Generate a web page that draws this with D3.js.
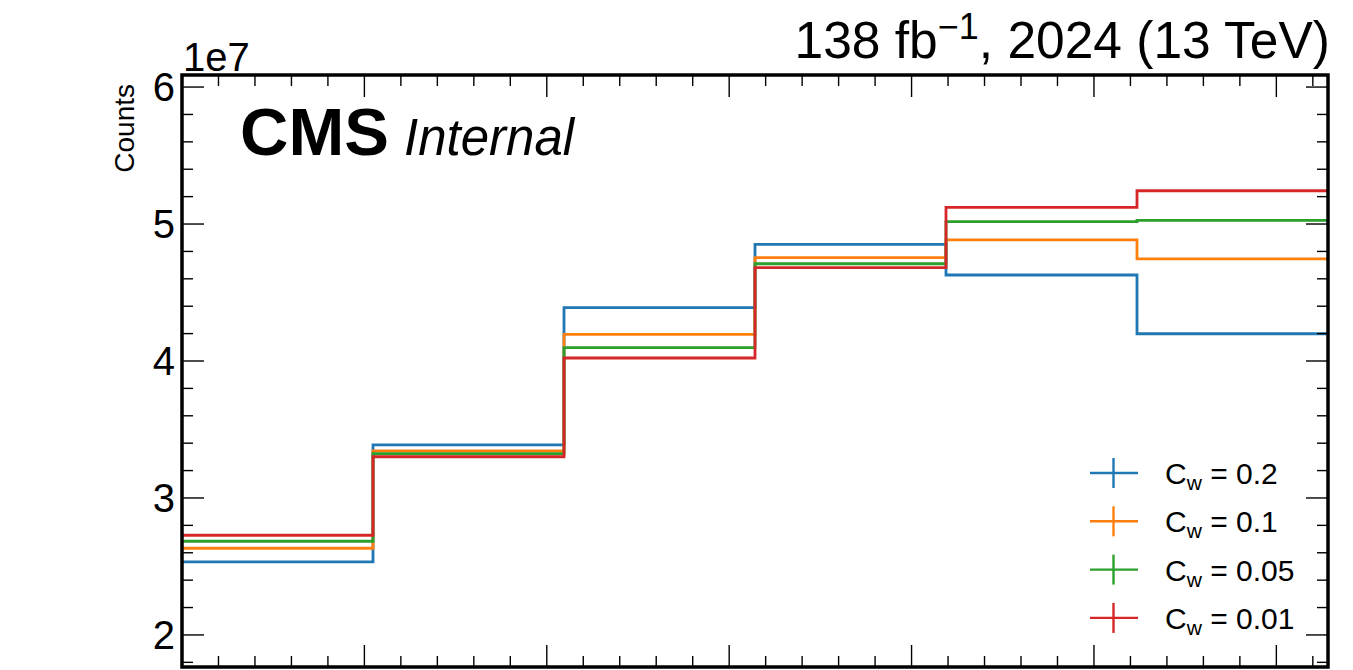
<!DOCTYPE html>
<html>
<head>
<meta charset="utf-8">
<script src="https://cdn.jsdelivr.net/npm/d3@7"></script>
<style>
  body { margin: 0; background: #fff; }
  svg text { font-family: "Liberation Sans", Arial, sans-serif; fill: #000; }
</style>
</head>
<body>
<svg id="chart" width="1353" height="670"></svg>
<script>
// bin edges (0 .. pi, 6 bins) and counts per bin for each Cw value
var binEdges = [0, Math.PI / 6, 2 * Math.PI / 6, 3 * Math.PI / 6, 4 * Math.PI / 6, 5 * Math.PI / 6, Math.PI];
var cw02  = [2.533e7, 3.387e7, 4.389e7, 4.852e7, 4.628e7, 4.199e7];
var cw01  = [2.633e7, 3.343e7, 4.195e7, 4.754e7, 4.885e7, 4.745e7];
var cw005 = [2.684e7, 3.323e7, 4.097e7, 4.710e7, 5.017e7, 5.027e7];
var cw001 = [2.728e7, 3.301e7, 4.022e7, 4.681e7, 5.122e7, 5.243e7];
var seriesLabels = ["0.2", "0.1", "0.05", "0.01"];
var seriesColors = ["#1f77b4", "#ff7f0e", "#2ca02c", "#d62728"];
var yMajorTicks = [2e7, 3e7, 4e7, 5e7, 6e7];

var allSeries = [cw02, cw01, cw005, cw001];

var plotLeft = 182, plotRight = 1328, plotTop = 75, plotBottom = 667;

var svg = d3.select("#chart");

var x = d3.scaleLinear().domain([0, Math.PI]).range([plotLeft, plotRight]);
var y = d3.scaleLinear().domain([1.766e7, 6.088e7]).range([plotBottom, plotTop]);

svg.append("clipPath").attr("id", "plotclip")
  .append("rect")
    .attr("x", plotLeft).attr("y", plotTop)
    .attr("width", plotRight - plotLeft).attr("height", plotBottom - plotTop);

// histograms as steps
var stepLine = d3.line()
    .x(function(d) { return x(d[0]); })
    .y(function(d) { return y(d[1]); })
    .curve(d3.curveStepAfter);

var hists = svg.append("g").attr("clip-path", "url(#plotclip)");
allSeries.forEach(function(vals, i) {
  var pts = vals.map(function(v, j) { return [binEdges[j], v]; });
  pts.push([binEdges[binEdges.length - 1], vals[vals.length - 1]]);
  hists.append("path")
      .attr("d", stepLine(pts))
      .attr("fill", "none")
      .attr("stroke", seriesColors[i])
      .attr("stroke-width", 2.8);
});

// ticks, all pointing inwards
var majLen = 22, minLen = 11;
var ticks = svg.append("g").attr("stroke", "#000").attr("stroke-width", 1.4);

var xMajor = d3.range(0, 3.01, 0.5);
var xMinor = d3.range(0, 3.15, 0.1).filter(function(v) {
  return Math.abs(v * 2 - Math.round(v * 2)) > 1e-6;
});
xMajor.forEach(function(v) {
  ticks.append("line").attr("x1", x(v)).attr("x2", x(v)).attr("y1", plotBottom).attr("y2", plotBottom - majLen);
  ticks.append("line").attr("x1", x(v)).attr("x2", x(v)).attr("y1", plotTop).attr("y2", plotTop + majLen);
});
xMinor.forEach(function(v) {
  ticks.append("line").attr("x1", x(v)).attr("x2", x(v)).attr("y1", plotBottom).attr("y2", plotBottom - minLen);
  ticks.append("line").attr("x1", x(v)).attr("x2", x(v)).attr("y1", plotTop).attr("y2", plotTop + minLen);
});

var yMinor = d3.range(1.8e7, 6.01e7, 0.2e7).filter(function(v) {
  return Math.abs(v / 1e7 - Math.round(v / 1e7)) > 1e-6;
});
yMajorTicks.forEach(function(v) {
  ticks.append("line").attr("x1", plotLeft).attr("x2", plotLeft + majLen).attr("y1", y(v)).attr("y2", y(v));
  ticks.append("line").attr("x1", plotRight).attr("x2", plotRight - majLen).attr("y1", y(v)).attr("y2", y(v));
});
yMinor.forEach(function(v) {
  ticks.append("line").attr("x1", plotLeft).attr("x2", plotLeft + minLen).attr("y1", y(v)).attr("y2", y(v));
  ticks.append("line").attr("x1", plotRight).attr("x2", plotRight - minLen).attr("y1", y(v)).attr("y2", y(v));
});

// y tick labels
svg.append("g").selectAll("text")
  .data(yMajorTicks)
  .enter().append("text")
    .attr("x", plotLeft - 7)
    .attr("y", function(d) { return y(d); })
    .attr("dy", "0.35em")
    .attr("text-anchor", "end")
    .style("font-size", "40px")
    .text(function(d) { return d3.format("d")(d / 1e7); });

// frame
svg.append("rect")
    .attr("x", plotLeft).attr("y", plotTop)
    .attr("width", plotRight - plotLeft).attr("height", plotBottom - plotTop)
    .attr("fill", "none")
    .attr("stroke", "#000")
    .attr("stroke-width", 3.5);

// offset text and axis label
svg.append("text")
    .attr("x", plotLeft + 1).attr("y", 71)
    .style("font-size", "40px")
    .text("1e7");

svg.append("text")
    .attr("transform", "translate(134,84) rotate(-90)")
    .attr("text-anchor", "end")
    .style("font-size", "28px")
    .text("Counts");

// experiment labels
svg.append("text")
    .attr("x", 240).attr("y", 155)
    .style("font-size", "67px")
    .style("font-weight", "bold")
    .text("CMS");
svg.append("text")
    .attr("x", 404).attr("y", 155)
    .style("font-size", "51px")
    .style("font-style", "italic")
    .text("Internal");

var lumi = svg.append("text")
    .attr("x", plotRight + 2).attr("y", 58)
    .attr("text-anchor", "end")
    .style("font-size", "51.5px");
lumi.append("tspan").text("138 fb");
lumi.append("tspan").attr("dy", -19).style("font-size", "36px").text("\u22121");
lumi.append("tspan").attr("dy", 19).text(", 2024 (13 TeV)");

// legend
var legend = svg.append("g");
seriesLabels.forEach(function(lab, i) {
  var cy = 473 + i * 48.3;
  var row = legend.append("g");
  row.append("line")
      .attr("x1", 1090).attr("x2", 1138).attr("y1", cy).attr("y2", cy)
      .attr("stroke", seriesColors[i]).attr("stroke-width", 2.4);
  row.append("line")
      .attr("x1", 1113.5).attr("x2", 1113.5).attr("y1", cy - 15).attr("y2", cy + 15)
      .attr("stroke", seriesColors[i]).attr("stroke-width", 2.4);
  var t = row.append("text")
      .attr("x", 1165).attr("y", cy + 11)
      .style("font-size", "30px");
  t.append("tspan").text("C");
  t.append("tspan").attr("dy", 6).style("font-size", "21px").text("w");
  t.append("tspan").attr("dy", -6).text(" = " + lab);
});
</script>
</body>
</html>
